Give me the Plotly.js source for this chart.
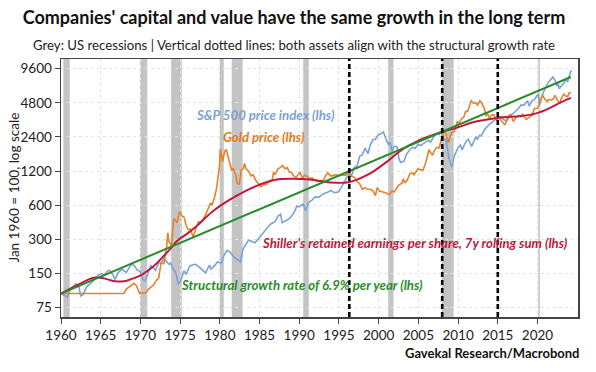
<!DOCTYPE html>
<html>
<head>
<meta charset="utf-8">
<script src="https://cdn.plot.ly/plotly-3.0.1.min.js"></script>
<style>
html,body{margin:0;padding:0;background:#fff;}
#chart{width:596px;height:372px;}
</style>
</head>
<body>
<div id="chart"></div>
<script>
// ---- Data (index, Jan 1960 = 100) ----
const spYears = [1960.0,1960.4,1960.8,1961.2,1961.6,1961.9,1962.2,1962.5,1962.8,1963.2,1963.6,1963.9,1964.3,1964.7,1965.1,1965.45,1965.8,1966.1,1966.5,1966.8,1967.2,1967.7,1968.2,1968.6,1968.9,1969.3,1969.6,1969.9,1970.4,1970.6,1970.9,1971.3,1971.6,1971.9,1972.3,1972.6,1972.95,1973.3,1973.6,1973.8,1974.1,1974.5,1974.75,1975.0,1975.5,1975.75,1976.2,1976.6,1976.95,1977.4,1977.8,1978.2,1978.7,1978.9,1979.4,1979.7,1980.2,1980.5,1980.9,1981.3,1981.7,1982.2,1982.6,1982.9,1983.3,1983.6,1983.9,1984.4,1984.8,1985.2,1985.6,1985.95,1986.3,1986.7,1986.95,1987.3,1987.65,1987.85,1988.3,1988.8,1989.3,1989.7,1990.0,1990.5,1990.8,1991.2,1991.6,1991.95,1992.5,1992.95,1993.5,1994.0,1994.4,1994.9,1995.3,1995.7,1996.0,1996.4,1996.6,1996.95,1997.3,1997.6,1997.9,1998.3,1998.65,1998.95,1999.3,1999.6,1999.95,2000.25,2000.6,2000.9,2001.2,2001.4,2001.7,2001.95,2002.3,2002.55,2002.75,2003.2,2003.5,2003.95,2004.3,2004.6,2004.95,2005.3,2005.7,2005.95,2006.3,2006.55,2006.95,2007.4,2007.6,2007.8,2008.2,2008.5,2008.85,2009.2,2009.5,2009.95,2010.3,2010.5,2010.95,2011.3,2011.7,2011.95,2012.25,2012.45,2012.7,2012.9,2013.4,2013.95,2014.5,2014.95,2015.4,2015.7,2016.1,2016.5,2016.95,2017.5,2017.95,2018.3,2018.75,2018.95,2019.3,2019.6,2019.95,2020.1,2020.25,2020.5,2020.7,2020.95,2021.3,2021.6,2021.95,2022.2,2022.45,2022.6,2022.75,2022.95,2023.3,2023.55,2023.8,2023.95,2024.1,2024.25];
const spValues = [100,97,93,110,116,122,119,95,98,114,121,126,136,145,150,145,157,160,148,133,153,164,153,172,183,174,160,159,131,129,145,176,169,160,186,186,203,191,181,186,166,150,121,126,159,147,174,179,181,171,160,152,178,164,178,190,186,215,240,232,212,198,190,245,275,295,290,280,300,325,345,370,405,420,430,480,500,420,440,460,510,590,580,615,534,638,664,707,707,750,776,810,776,784,862,983,1060,1138,1103,1293,1345,1621,1655,1914,1707,2052,2276,2293,2500,2552,2650,2328,2069,2155,1793,1983,1966,1552,1431,1466,1690,1862,1948,1897,2069,2017,2121,2172,2241,2155,2431,2586,2517,2655,2310,2241,1552,1300,1603,1914,2034,1845,2155,2293,1983,2172,2414,2276,2483,2448,2828,3103,3379,3552,3621,3431,3310,3621,3879,4207,4603,4569,5000,4483,5000,5086,5569,5638,4569,5345,5862,6379,7155,7586,8103,7586,6724,7069,6379,6724,7069,7759,7328,8103,8700,9300];

const goldYears = [1960.0,1962.0,1964.0,1966.0,1967.9,1968.25,1968.5,1968.9,1969.2,1969.5,1969.9,1970.3,1970.7,1971.0,1971.4,1971.7,1972.0,1972.3,1972.6,1972.95,1973.3,1973.45,1973.6,1973.9,1974.2,1974.4,1974.6,1974.95,1975.2,1975.5,1975.75,1976.0,1976.3,1976.65,1976.95,1977.3,1977.7,1977.95,1978.3,1978.6,1978.85,1979.0,1979.3,1979.6,1979.8,1979.95,1980.05,1980.2,1980.35,1980.6,1980.8,1980.95,1981.2,1981.5,1981.7,1981.95,1982.2,1982.45,1982.7,1982.95,1983.1,1983.3,1983.6,1983.95,1984.2,1984.5,1984.95,1985.15,1985.4,1985.7,1985.95,1986.3,1986.6,1986.75,1986.95,1987.3,1987.6,1987.9,1988.2,1988.5,1988.75,1989.0,1989.3,1989.6,1989.95,1990.1,1990.4,1990.65,1990.95,1991.3,1991.6,1991.95,1992.4,1992.7,1992.95,1993.3,1993.6,1993.95,1994.3,1994.7,1994.95,1995.3,1995.7,1995.95,1996.1,1996.5,1996.95,1997.3,1997.6,1997.95,1998.3,1998.6,1998.95,1999.3,1999.6,1999.8,2000.1,2000.4,2000.7,2000.95,2001.3,2001.7,2001.95,2002.3,2002.5,2002.95,2003.1,2003.3,2003.6,2003.95,2004.3,2004.45,2004.95,2005.3,2005.6,2005.95,2006.35,2006.5,2006.8,2006.95,2007.3,2007.6,2007.9,2008.2,2008.45,2008.8,2008.95,2009.2,2009.5,2009.9,2010.1,2010.45,2010.7,2010.95,2011.2,2011.4,2011.65,2011.95,2012.2,2012.45,2012.75,2012.95,2013.3,2013.5,2013.7,2013.95,2014.2,2014.5,2014.85,2015.1,2015.5,2015.9,2016.2,2016.6,2016.95,2017.3,2017.7,2017.95,2018.1,2018.6,2018.95,2019.3,2019.6,2019.95,2020.2,2020.6,2020.9,2021.2,2021.45,2021.75,2021.95,2022.2,2022.55,2022.8,2022.95,2023.3,2023.6,2023.8,2023.95,2024.2];
const goldValues = [100,100,100,100,100,110,113,117,123,117,100,101,102,109,114,120,131,137,186,183,257,343,286,263,457,443,420,529,486,471,400,366,369,314,371,429,429,457,514,571,629,600,686,857,1114,1314,1880,1571,1457,1771,1857,1700,1429,1214,1271,1143,943,914,1229,1257,1400,1257,1200,1086,1114,1000,914,871,900,914,929,986,1000,1171,1114,1257,1286,1343,1257,1286,1171,1171,1086,1057,1143,1171,1043,1100,1086,1029,1043,1000,971,986,957,1086,1157,1086,1100,1114,1086,1114,1100,1114,1157,1086,1057,971,929,829,857,829,829,800,729,857,800,786,771,771,743,800,786,857,900,943,1029,943,1000,1143,1157,1114,1257,1229,1229,1443,1857,1757,1657,1786,1943,1914,2286,2714,2571,2143,2343,2629,2657,3286,3143,3486,3557,4029,4029,4371,5000,4743,4829,4571,5000,4800,4286,3657,3857,3514,3743,3771,3343,3571,3314,3057,3529,3829,3286,3571,3714,3629,3800,3429,3571,3714,4257,4286,4571,5629,5200,4914,5143,5057,5143,5571,5000,4714,5143,5714,5486,5429,5829,5900];

const shillerYears = [1960,1962.0,1964.1,1965.4,1966.6,1967.9,1968.7,1969.6,1970.4,1971.3,1972.1,1972.9,1973.8,1974.6,1975.9,1977.2,1979.0,1981.1,1983.2,1985.3,1987.0,1989.1,1991.6,1993.7,1996.2,1998.7,2000.8,2002.9,2005.0,2007.9,2010.0,2012.1,2015.1,2018.0,2019.7,2021.4,2023.0,2024.2];
const shillerValues = [100,118,138,136,129,128,133,140,150,166,186,213,249,290,337,400,523,662,800,927,1006,1025,1006,956,956,1121,1409,1847,2230,2640,2920,3260,3550,3670,3850,4270,4870,5300];

const trendYears = [1960, 2024.2];
const trendValues = [100, 8100];

const recessionStart = [1960.3,1969.95,1973.87,1980.0,1981.5,1990.5,2001.2,2007.95,2020.1];
const recessionEnd   = [1961.1,1970.87,1975.2,1980.5,1982.87,1991.2,2001.87,2009.45,2020.3];
const alignYears = [1996.3, 2008.0, 2015.0];

const yTicks = [75,150,300,600,1200,2400,4800,9600];
const yTickText = ['75','150','300','600','1200','2400','4800','9600'];
const xTicks = [1960,1965,1970,1975,1980,1985,1990,1995,2000,2005,2010,2015,2020];

const labelSP = 'S&P 500 price index (lhs)';
const labelGold = 'Gold price (lhs)';
const labelShiller = "Shiller's retained earnings per share, 7y rolling sum (lhs)";
const labelTrend = 'Structural growth rate of 6.9% per year (lhs)';

// ---- Styling ----
const FONT = 'Lato, "Open Sans", sans-serif';
const cBlue = '#7aa3d5', cGold = '#e5832a', cRed = '#c1183d', cGreen = '#2b8c2b';

const traces = [
  {x: spYears, y: spValues, type: 'scatter', mode: 'lines', line: {color: cBlue, width: 1.6}, hoverinfo: 'skip'},
  {x: goldYears, y: goldValues, type: 'scatter', mode: 'lines', line: {color: cGold, width: 1.6}, hoverinfo: 'skip'},
  {x: shillerYears, y: shillerValues, type: 'scatter', mode: 'lines', line: {color: cRed, width: 2, shape: 'spline', smoothing: 1}, hoverinfo: 'skip'},
  {x: trendYears, y: trendValues, type: 'scatter', mode: 'lines', line: {color: cGreen, width: 2}, hoverinfo: 'skip'}
];

const shapes = [];
recessionStart.forEach((s, i) => {
  shapes.push({type: 'rect', xref: 'x', yref: 'paper', x0: s, x1: recessionEnd[i], y0: 0, y1: 1,
    fillcolor: '#c4c4c4', line: {width: 0}, layer: 'below'});
});
alignYears.forEach(yr => {
  shapes.push({type: 'line', xref: 'x', yref: 'paper', x0: yr, x1: yr, y0: 0, y1: 1,
    line: {color: '#000', width: 2.6, dash: '5px,3px'}, layer: 'above'});
});

const annFont = (c) => ({family: FONT, size: 13.2, color: c, style: 'italic', weight: 700});
const annotations = [
  {x: 1976.7, y: Math.log10(3779), xref: 'x', yref: 'y', text: labelSP, showarrow: false, xanchor: 'left', yanchor: 'middle', font: annFont(cBlue)},
  {x: 1980.1, y: Math.log10(2420), xref: 'x', yref: 'y', text: labelGold, showarrow: false, xanchor: 'left', yanchor: 'middle', font: annFont('#e07a1c')},
  {x: 1985.1, y: Math.log10(281), xref: 'x', yref: 'y', text: labelShiller, showarrow: false, xanchor: 'left', yanchor: 'middle', font: annFont(cRed)},
  {x: 1974.8, y: Math.log10(118), xref: 'x', yref: 'y', text: labelTrend, showarrow: false, xanchor: 'left', yanchor: 'middle', font: annFont(cGreen)},
  {x: (294 - 60.5) / 517.5, y: (317 - 44) / 258.5, xref: 'paper', yref: 'paper', showarrow: false, xanchor: 'center', yanchor: 'middle',
   text: 'Grey: US recessions | Vertical dotted lines: both assets align with the structural growth rate',
   font: {family: FONT, size: 13.2, color: '#222'}},
  {x: (13 - 60.5) / 517.5, y: 0.5, xref: 'paper', yref: 'paper', showarrow: false, textangle: -90, xanchor: 'center', yanchor: 'middle',
   text: 'Jan 1960 = 100, log scale', font: {family: FONT, size: 13.5, color: '#222'}},
  {x: (582 - 60.5) / 517.5, y: (317 - 353.5) / 258.5, xref: 'paper', yref: 'paper', showarrow: false, xanchor: 'right', yanchor: 'middle',
   text: 'Gavekal Research/Macrobond', font: {family: FONT, size: 13, color: '#111', weight: 700}}
];

const layout = {
  width: 596, height: 372,
  margin: {l: 60.5, r: 18, t: 58.5, b: 55},
  paper_bgcolor: '#fff', plot_bgcolor: '#fff',
  showlegend: false,
  title: {text: "Companies' capital and value have the same growth in the long term",
    xref: 'container', yref: 'container', x: 294 / 596, y: 1 - 18 / 372, xanchor: 'center', yanchor: 'middle',
    font: {family: FONT, size: 18, color: '#111', weight: 700}},
  xaxis: {
    range: [1960, 2025.1], tickvals: xTicks, ticktext: xTicks.map(String),
    ticks: 'outside', ticklen: 5, tickcolor: '#444', tickwidth: 1,
    showline: true, linecolor: '#444', linewidth: 1.5, mirror: true,
    showgrid: true, gridcolor: '#e4e4e4', griddash: 'dot', gridwidth: 1,
    zeroline: false, tickfont: {family: FONT, size: 13.5, color: '#222'}
  },
  yaxis: {
    type: 'log', range: [Math.log10(62.1), Math.log10(11670)],
    tickvals: yTicks, ticktext: yTickText,
    ticks: 'outside', ticklen: 5, tickcolor: '#444', tickwidth: 1,
    showline: true, linecolor: '#444', linewidth: 1.5, mirror: true,
    showgrid: true, gridcolor: '#e4e4e4', griddash: 'dot', gridwidth: 1,
    zeroline: false, tickfont: {family: FONT, size: 13.5, color: '#222'}
  },
  shapes: shapes,
  annotations: annotations
};

Plotly.newPlot('chart', traces, layout, {displayModeBar: false, staticPlot: true});
</script>
</body>
</html>
